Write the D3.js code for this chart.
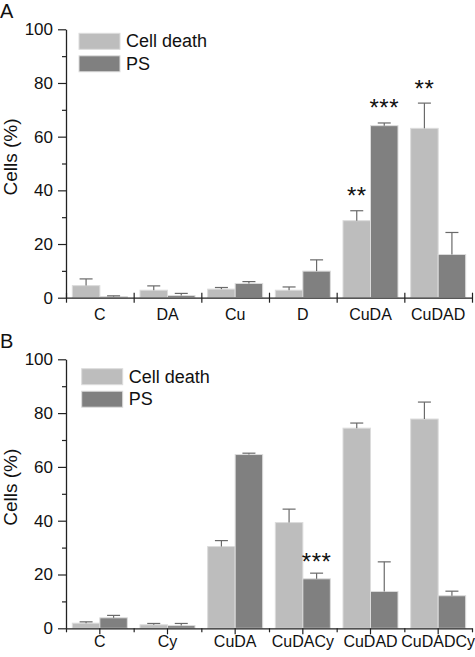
<!DOCTYPE html>
<html>
<head>
<meta charset="utf-8">
<script src="https://cdn.jsdelivr.net/npm/d3@7/dist/d3.min.js"></script>
<style>
  html, body { margin: 0; padding: 0; background: #fff; }
  svg text { font-family: "Liberation Sans", Arial, Helvetica, sans-serif; fill: #111; }
</style>
</head>
<body>
<svg id="chart" width="475" height="657"></svg>
<script>
// ---- Data ----
const seriesNames = ["Cell death", "PS"];
const seriesColors = ["#bdbdbd", "#808080"];
const yTicks = [0, 20, 40, 60, 80, 100];
const yMinorTicks = [10, 30, 50, 70, 90];

const categoriesA = ["C", "DA", "Cu", "D", "CuDA", "CuDAD"];
const cellDeathA = [4.5, 2.8, 3.2, 2.8, 28.7, 63.1];
const cellDeathErrA = [2.5, 1.6, 0.6, 1.2, 3.7, 9.4];
const psA = [0.4, 0.8, 5.3, 9.9, 64.1, 16.1];
const psErrA = [0.3, 0.8, 0.7, 4.2, 1.0, 8.2];
const starsA = [
  { cat: "CuDA", series: 0, text: "**" },
  { cat: "CuDA", series: 1, text: "***" },
  { cat: "CuDAD", series: 0, text: "**" }
];

const categoriesB = ["C", "Cy", "CuDA", "CuDACy", "CuDAD", "CuDADCy"];
const cellDeathB = [1.9, 1.3, 30.4, 39.3, 74.4, 77.8];
const cellDeathErrB = [0.5, 0.5, 2.2, 5.0, 1.9, 6.3];
const psB = [3.9, 1.0, 64.6, 18.4, 13.7, 12.1];
const psErrB = [0.9, 0.8, 0.5, 2.1, 11.0, 1.7];
const starsB = [
  { cat: "CuDACy", series: 1, text: "***" }
];

const svg = d3.select("#chart");

function panel(opts) {
  const { letter, top, bottom, cats, vals, errs, stars, legendX, legendY, xTickStyle, starGap } = opts;
  const g = svg.append("g");
  const x0 = d3.scaleBand().domain(cats).range([66, 472]).paddingInner(0).paddingOuter(0);
  const x1 = d3.scaleBand().domain(d3.range(seriesNames.length)).range([0, x0.bandwidth()]).paddingInner(0).paddingOuter(0.23);
  const y = d3.scaleLinear().domain([0, 100]).range([bottom, top]);

  // Bars
  seriesNames.forEach((s, si) => {
    g.append("g").selectAll("rect").data(cats).join("rect")
      .attr("x", c => x0(c) + x1(si))
      .attr("y", (c, i) => y(vals[si][i]))
      .attr("width", x1.bandwidth())
      .attr("height", (c, i) => y(0) - y(vals[si][i]))
      .attr("fill", seriesColors[si])
      .attr("stroke", "#dcdcdc")
      .attr("stroke-width", 1);
  });

  // Error bars
  seriesNames.forEach((s, si) => {
    const eg = g.append("g").attr("stroke", "#6a6a6a").attr("stroke-width", 1.2).attr("fill", "none");
    cats.forEach((c, i) => {
      const cx = x0(c) + x1(si) + x1.bandwidth() / 2;
      const y1 = y(vals[si][i]);
      const y2 = y(vals[si][i] + errs[si][i]);
      eg.append("line").attr("x1", cx).attr("x2", cx).attr("y1", y1).attr("y2", y2);
      eg.append("line").attr("x1", cx - 6.5).attr("x2", cx + 6.5).attr("y1", y2).attr("y2", y2);
    });
  });

  // Stars
  g.append("g").selectAll("text").data(stars).join("text")
    .attr("x", d => x0(d.cat) + x1(d.series) + x1.bandwidth() / 2)
    .attr("y", d => {
      const i = cats.indexOf(d.cat);
      return y(vals[d.series][i] + errs[d.series][i]) - starGap + 13.5;
    })
    .attr("text-anchor", "middle")
    .attr("font-size", 24)
    .attr("letter-spacing", "0.5px")
    .text(d => d.text);

  // Y axis
  const yAxis = g.append("g").attr("transform", "translate(66,0)")
    .call(d3.axisLeft(y).tickValues(yTicks).tickSize(8).tickPadding(5).tickSizeOuter(0));
  yAxis.selectAll("text").attr("font-size", 17).attr("fill", "#111");
  yAxis.select(".domain").attr("stroke", "#222").attr("stroke-width", 1.3);
  yAxis.selectAll(".tick line").attr("stroke", "#222").attr("stroke-width", 1.2);
  const yMinor = g.append("g").attr("transform", "translate(66,0)")
    .call(d3.axisLeft(y).tickValues(yMinorTicks).tickSize(4).tickFormat(""));
  yMinor.select(".domain").remove();
  yMinor.selectAll(".tick line").attr("stroke", "#222").attr("stroke-width", 1.2);

  // X axis
  const boundaries = cats.map(c => x0(c)).concat([x0.range()[1]]);
  const xb = d3.scaleLinear().domain([66, 472]).range([66, 472]);
  const xAxisB = g.append("g").attr("transform", `translate(0,${bottom})`)
    .call(d3.axisBottom(xb).tickValues(boundaries).tickSize(xTickStyle === "cross" ? 5 : 4).tickFormat("").tickSizeOuter(0));
  xAxisB.select(".domain").attr("stroke", "#222").attr("stroke-width", 1.3);
  xAxisB.selectAll(".tick line").attr("stroke", "#222").attr("stroke-width", 1.2);
  if (xTickStyle === "cross") xAxisB.selectAll(".tick line").attr("y1", -5);

  const xAxisL = g.append("g").attr("transform", `translate(0,${bottom})`)
    .call(d3.axisBottom(x0).tickSize(xTickStyle === "cross" ? 0 : 6).tickPadding(xTickStyle === "cross" ? 10.5 : 1).tickSizeOuter(0));
  xAxisL.select(".domain").remove();
  xAxisL.selectAll(".tick line").attr("stroke", "#222").attr("stroke-width", 1.2);
  xAxisL.selectAll("text").attr("font-size", 16).attr("fill", "#111");

  // Y label
  g.append("text")
    .attr("transform", `translate(17,${(top + bottom) / 2 - 6.5}) rotate(-90)`)
    .attr("text-anchor", "middle")
    .attr("font-size", 19)
    .text("Cells (%)");

  // Panel letter
  g.append("text").attr("x", 0).attr("y", top - 11).attr("font-size", 20).text(letter);

  // Legend
  const lg = g.append("g");
  seriesNames.forEach((s, si) => {
    lg.append("rect")
      .attr("x", legendX).attr("y", legendY + si * 22.5)
      .attr("width", 41).attr("height", 16)
      .attr("fill", seriesColors[si]).attr("stroke", "#dcdcdc").attr("stroke-width", 1);
    lg.append("text")
      .attr("x", legendX + 47).attr("y", legendY + si * 22.5 + 14)
      .attr("font-size", 18)
      .text(s);
  });
}

panel({
  letter: "A", top: 29.3, bottom: 297.7, cats: categoriesA,
  vals: [cellDeathA, psA], errs: [cellDeathErrA, psErrA], stars: starsA,
  legendX: 79, legendY: 33.3, xTickStyle: "cross", starGap: 20
});
panel({
  letter: "B", top: 359.3, bottom: 628.3, cats: categoriesB,
  vals: [cellDeathB, psB], errs: [cellDeathErrB, psErrB], stars: starsB,
  legendX: 81.7, legendY: 368.7, xTickStyle: "down", starGap: 17
});
</script>
</body>
</html>
